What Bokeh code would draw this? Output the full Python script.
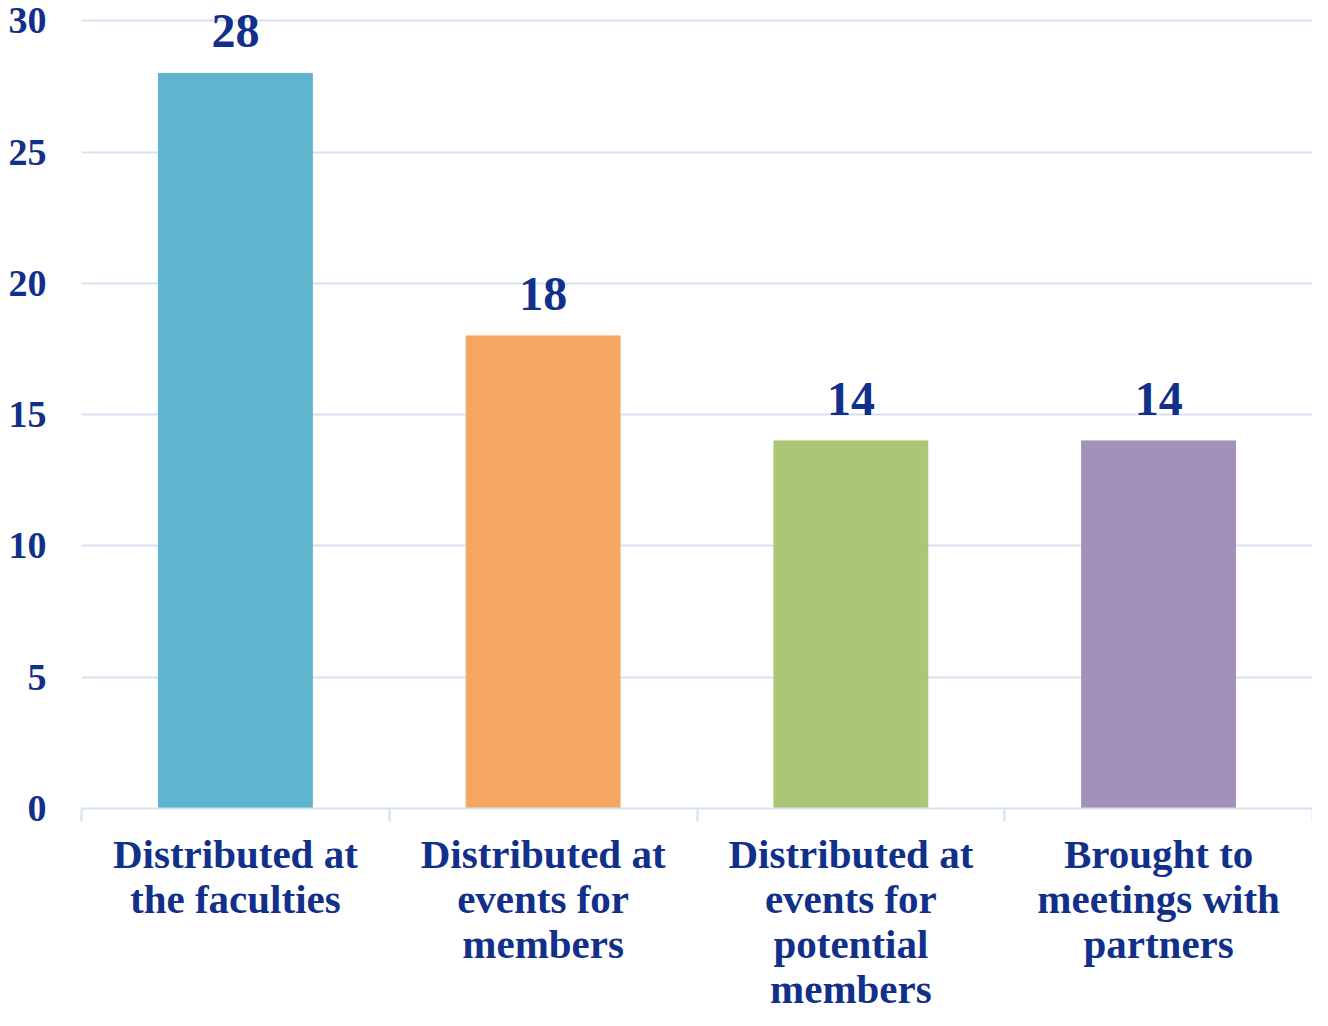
from bokeh.plotting import figure
from bokeh.models import (Range1d, LinearAxis, FixedTicker, ColumnDataSource)
from bokeh.embed import file_html
from bokeh.resources import INLINE
from bokeh.core.properties import value

categories = [
    "Distributed at\nthe faculties",
    "Distributed at\nevents for\nmembers",
    "Distributed at\nevents for\npotential\nmembers",
    "Brought to\nmeetings with\npartners",
]
counts = [28, 18, 14, 14]
bar_colors = ["#5FB4CE", "#F7A661", "#ABC674", "#A391BC"]
y_ticks = [0, 5, 10, 15, 20, 25, 30]

NAVY = "#11308A"
FONT = "Liberation Serif"
GRID = "#D6E2F2"

n = len(categories)
centers = [i + 0.5 for i in range(n)]
separators = list(range(n + 1))

src = ColumnDataSource(dict(x=centers, val=counts, color=bar_colors,
                            lbl=[str(v) for v in counts]))

p = figure(frame_width=1231, frame_height=806,
           x_range=Range1d(0, n), y_range=Range1d(0, 30.7),
           output_backend="svg", toolbar_location=None, x_axis_location=None,
           min_border_left=81, min_border_right=0, min_border_top=2, min_border_bottom=0)

p.outline_line_color = None
p.xgrid.visible = False
p.ygrid.grid_line_color = GRID
p.ygrid.grid_line_width = 2
p.ygrid.ticker = FixedTicker(ticks=y_ticks)

ya = p.yaxis[0]
ya.ticker = FixedTicker(ticks=y_ticks)
ya.axis_line_color = None
ya.major_tick_line_color = None
ya.minor_tick_line_color = None
ya.major_label_standoff = 29
ya.major_label_text_font = FONT
ya.major_label_text_font_style = "bold"
ya.major_label_text_font_size = "38px"
ya.major_label_text_color = NAVY

sep = LinearAxis(ticker=FixedTicker(ticks=separators),
                 major_label_overrides={s: "" for s in separators})
sep.major_tick_out = 13
sep.major_tick_in = 0
sep.minor_tick_line_color = None
sep.axis_line_color = GRID
sep.axis_line_width = 2
sep.major_tick_line_color = GRID
sep.major_tick_line_width = 2
sep.major_label_text_font_size = "1px"
sep.major_label_text_alpha = 0
sep.major_label_standoff = 0
p.add_layout(sep, "below")

ca = LinearAxis(ticker=FixedTicker(ticks=centers),
                major_label_overrides={c: lab for c, lab in zip(centers, categories)})
ca.axis_line_color = None
ca.major_tick_line_color = None
ca.minor_tick_line_color = None
ca.major_tick_out = 0
ca.major_tick_in = 0
ca.major_label_standoff = 9
ca.major_label_orientation = "horizontal"
ca.major_label_text_font = FONT
ca.major_label_text_font_style = "bold"
ca.major_label_text_font_size = "41px"
ca.major_label_text_line_height = 0.98
ca.major_label_text_color = NAVY
p.add_layout(ca, "below")

p.vbar(x="x", top="val", bottom=0, width=0.5, color="color", source=src)
p.text(x="x", y="val", text="lbl", y_offset=-42, text_align="center",
       text_baseline="alphabetic", text_font=value(FONT), text_font_style="bold",
       text_font_size="48px", text_color=NAVY, source=src)

open("out.html", "w").write(file_html(p, INLINE))
